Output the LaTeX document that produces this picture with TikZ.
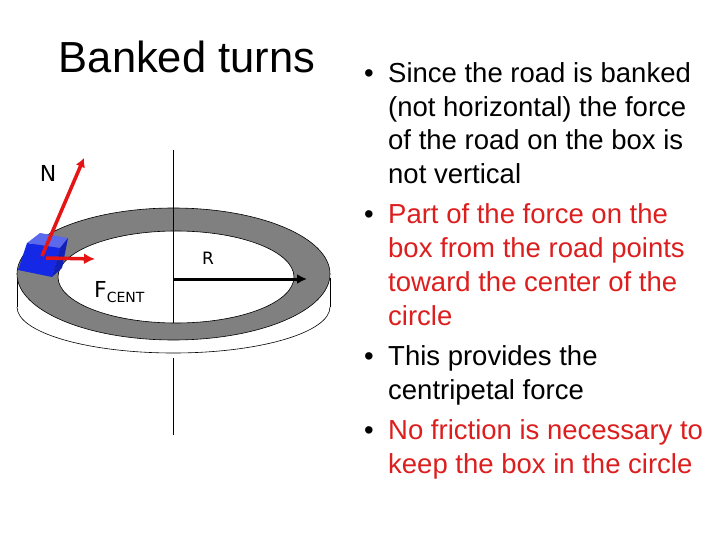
\documentclass[tikz,border=0pt]{standalone}
\usepackage{fontspec}
\usetikzlibrary{arrows.meta}
\setmainfont{Liberation Sans}
\newfontfamily\tahoma{DejaVu Sans}
\tikzset{
  bl/.style={anchor=base west,font=\fontsize{27.5}{27.5}\selectfont,inner sep=0pt},
  red/.style={text=redtxt},
  axis/.style={black,line width=0.8pt},
}
\definecolor{redtxt}{RGB}{220,30,30}
\definecolor{road}{RGB}{128,128,128}
\definecolor{boxblue}{RGB}{20,40,230}
\definecolor{arrred}{RGB}{230,20,20}
\begin{document}
\begin{tikzpicture}[x=1pt,y=-1pt]
\useasboundingbox (0,0) rectangle (720,540);
% base rim
\draw[line width=0.6pt] (17,278) -- (17,307);
\draw[line width=0.6pt] (330,278) -- (330,307);
\draw[line width=0.6pt] (17,307) arc[start angle=180,end angle=0,x radius=156.5,y radius=46];
% road
\path[fill=road,draw=black,line width=0.6pt,even odd rule] (173.5,274) ellipse[x radius=156.5,y radius=66] (176,277) ellipse[x radius=118,y radius=46];
% axis
\coordinate (a1) at (173,150); \coordinate (a2) at (173,323);
\coordinate (a3) at (173,358); \coordinate (a4) at (173,435);
\draw[axis] (a1) -- (a2);
\draw[axis] (a3) -- (a4);
% R arrow
\coordinate (c) at (173,279); \coordinate (r) at (307,279);
\draw[line width=3pt,-{Latex[length=10pt,width=10pt]}] (c) -- (r);
\node (Rl) at (208,258) {\tahoma\fontsize{17}{17}\selectfont R};
\node[anchor=base west,inner sep=0pt] (F) at (94,297) {\tahoma\fontsize{22}{22}\selectfont F\raisebox{-5pt}{\fontsize{14}{14}\selectfont CENT}};
% box
\fill[boxblue!70!white] (27,243) -- (40,233) -- (68,238) -- (60,248) -- cycle;
\fill[boxblue] (27,243) -- (60,248) -- (52,277) -- (18,270) -- cycle;
\fill[boxblue!80!black] (60,248) -- (68,238) -- (62,268) -- (52,277) -- cycle;
% red arrows
\coordinate (b) at (42,256); \coordinate (n) at (84,158);
\coordinate (b2) at (46,258); \coordinate (f) at (95,259);
\draw[arrred,line width=3.5pt,-{Latex[length=9pt,width=10pt]}] (b) -- (n);
\draw[arrred,line width=3.5pt,-{Latex[length=11pt,width=11pt]}] (b2) -- (f);
\node (N) at (48,173) {\tahoma\fontsize{22}{22}\selectfont N};
% title
\node (title) at (187,57) {\fontsize{43.5}{43.5}\selectfont Banked turns};
% bullets
\node[bl] (d1) at (364,83) {•}; \node[bl] (t1) at (388,83) {Since the road is banked};
\node[bl] (t2) at (388,117) {(not horizontal) the force};
\node[bl] (t3) at (388,150) {of the road on the box is};
\node[bl] (t4) at (388,184) {not vertical};
\node[bl] (d2) at (364,224) {•}; \node[bl,red] (t5) at (388,224) {Part of the force on the};
\node[bl,red] (t6) at (388,258) {box from the road points};
\node[bl,red] (t7) at (388,291) {toward the center of the};
\node[bl,red] (t8) at (388,325) {circle};
\node[bl] (d3) at (364,365) {•}; \node[bl] (t9) at (388,365) {This provides the};
\node[bl] (t10) at (388,399) {centripetal force};
\node[bl] (d4) at (364,439) {•}; \node[bl,red] (t11) at (388,439) {No friction is necessary to};
\node[bl,red] (t12) at (388,473) {keep the box in the circle};
\end{tikzpicture}
\end{document}
